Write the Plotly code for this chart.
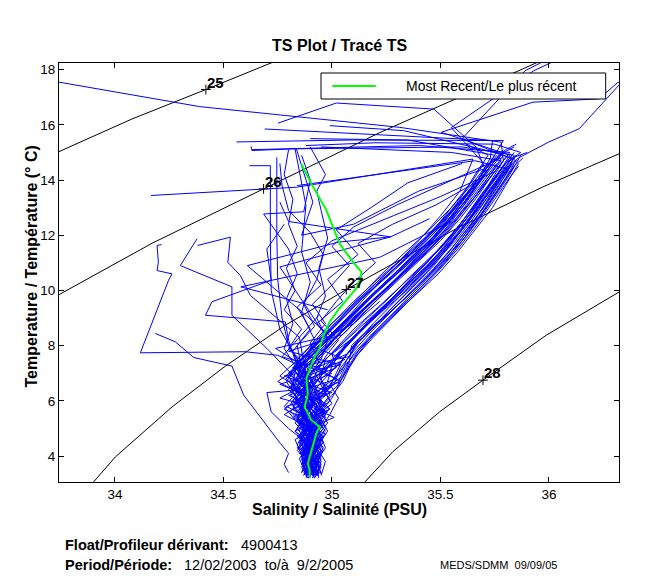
import plotly.graph_objects as go

FONT = "Liberation Sans, Arial, Helvetica, sans-serif"
BLUE = "#0000ff"
GREEN = "#00ff00"

# ---- axes ----
sal_range = [33.742, 36.323]
temp_range = [3.06, 18.24]
sal_ticks = [34, 34.5, 35, 35.5, 36]
temp_ticks = [4, 6, 8, 10, 12, 14, 16, 18]

# ---- sigma-t isopycnals ----
sig25_s = [33.60, 33.742, 34.078, 34.419, 34.723, 34.80]
sig25_t = [14.53, 15.03, 16.21, 17.28, 18.24, 18.50]
sig26_s = [33.60, 33.742, 34.171, 34.685, 35.031, 35.221, 35.573, 35.94, 36.0]
sig26_t = [9.23, 9.85, 11.71, 13.68, 15.01, 15.72, 16.95, 18.24, 18.45]
sig27_s = [33.872, 33.902, 34.002, 34.263, 34.509, 34.785, 35.066, 35.573, 35.972, 36.326, 36.40]
sig27_t = [2.80, 3.07, 3.97, 5.78, 7.26, 8.74, 10.03, 12.24, 13.75, 14.96, 15.20]
sig28_s = [35.133, 35.174, 35.281, 35.496, 35.696, 35.988, 36.326, 36.40]
sig28_t = [2.90, 3.25, 4.16, 5.60, 6.75, 8.38, 9.95, 10.30]

label_s = [34.419, 34.685, 35.066, 35.696]
label_t = [17.28, 13.68, 10.03, 6.75]
label_txt = ["25", "26", "27", "28"]

# ---- float profiles (salinity, temperature), deep -> surface ----
band_profiles = [
    [(34.90, 3.25), (34.88, 3.7), (34.92, 4.2), (34.86, 4.8), (34.91, 5.3), (34.85, 5.9), (34.90, 6.5), (34.86, 7.1),
     (34.95, 7.7), (35.03, 8.4), (35.12, 9.1), (35.22, 9.8), (35.33, 10.6), (35.44, 11.4), (35.54, 12.2), (35.62, 13.0),
     (35.70, 13.8), (35.78, 14.6), (35.82, 15.0), (35.40, 15.25), (34.63, 15.1), (34.627, 15.22)],
    [(34.93, 3.3), (34.95, 3.8), (34.92, 4.4), (34.97, 5.0), (34.93, 5.6), (34.99, 6.2), (34.95, 6.8), (35.03, 7.3),
     (35.09, 7.9), (35.18, 8.6), (35.28, 9.4), (35.37, 10.1), (35.47, 10.9), (35.56, 11.8), (35.64, 12.7), (35.72, 13.6),
     (35.80, 14.4), (35.86, 14.8), (36.0, 15.38), (36.14, 15.86), (36.33, 17.5)],
    [(34.87, 3.4), (34.91, 3.9), (34.85, 4.5), (34.90, 5.1), (34.82, 5.8), (34.88, 6.4), (34.80, 7.0), (34.90, 7.6),
     (34.99, 8.3), (35.09, 9.1), (35.19, 9.9), (35.30, 10.7), (35.41, 11.6), (35.51, 12.4), (35.60, 13.3), (35.68, 14.1),
     (35.73, 14.8), (35.74, 15.43), (34.69, 15.85)],
    [(34.92, 3.3), (34.89, 3.8), (34.94, 4.3), (34.90, 4.9), (34.96, 5.5), (34.91, 6.1), (34.98, 6.7), (35.00, 7.3),
     (35.06, 7.9), (35.14, 8.6), (35.24, 9.4), (35.34, 10.2), (35.45, 11.1), (35.55, 12.0), (35.64, 12.9), (35.72, 13.8),
     (35.79, 14.7), (35.78, 15.37), (35.31, 15.91), (34.39, 16.66), (33.742, 17.54), (33.60, 17.74)],
    [(34.89, 3.2), (34.92, 3.6), (34.87, 4.1), (34.93, 4.7), (34.86, 5.3), (34.92, 5.9), (34.84, 6.5), (34.89, 7.1),
     (34.93, 7.8), (35.02, 8.5), (35.11, 9.2), (35.21, 10.0), (35.33, 10.8), (35.45, 11.7), (35.55, 12.6), (35.64, 13.5),
     (35.71, 14.3), (35.665, 15.19), (35.47, 16.57), (35.02, 16.79), (34.751, 16.06)],
    [(34.94, 3.35), (34.91, 3.9), (34.95, 4.5), (34.89, 5.1), (34.94, 5.7), (34.88, 6.3), (34.95, 6.9), (34.97, 7.5),
     (35.05, 8.1), (35.15, 8.9), (35.26, 9.7), (35.36, 10.5), (35.48, 11.4), (35.58, 12.3), (35.67, 13.2), (35.75, 14.0),
     (35.83, 14.8), (35.70, 15.1), (35.33, 15.79), (34.99, 15.97)],
    [(34.91, 3.3), (34.93, 3.7), (34.88, 4.2), (34.92, 4.6), (34.87, 5.2), (34.93, 5.8), (34.89, 6.4), (34.96, 7.0),
     (35.02, 7.6), (35.10, 8.3), (35.20, 9.1), (35.30, 9.9), (35.41, 10.8), (35.52, 11.7), (35.61, 12.6), (35.69, 13.5),
     (35.77, 14.3), (35.82, 14.9), (35.504, 15.73), (35.926, 16.82), (36.23, 16.94), (36.318, 17.54), (36.40, 17.62)],
    [(34.88, 3.4), (34.86, 3.9), (34.90, 4.4), (34.84, 5.0), (34.88, 5.6), (34.83, 6.2), (34.87, 6.8), (34.84, 7.4),
     (34.92, 8.0), (35.00, 8.7), (35.09, 9.4), (35.18, 10.1), (35.29, 10.9), (35.40, 11.8), (35.50, 12.7), (35.59, 13.6),
     (35.65, 14.76), (34.836, 13.74), (34.166, 13.44)],
    [(34.95, 3.3), (34.97, 3.8), (34.93, 4.3), (34.98, 4.9), (34.94, 5.5), (35.00, 6.1), (35.04, 6.7), (35.08, 7.3),
     (35.13, 7.9), (35.21, 8.6), (35.31, 9.4), (35.41, 10.2), (35.51, 11.0), (35.60, 11.9), (35.68, 12.8), (35.75, 13.7),
     (35.81, 14.4), (35.66, 14.70), (34.84, 13.80)],
    [(34.90, 3.3), (34.87, 3.8), (34.91, 4.3), (34.85, 4.9), (34.89, 5.5), (34.83, 6.0), (34.88, 6.6), (34.85, 7.2),
     (34.93, 7.8), (35.01, 8.5), (35.11, 9.3), (35.22, 10.1), (35.34, 11.0), (35.46, 11.9), (35.56, 12.8), (35.64, 13.7),
     (35.72, 14.5), (35.79, 15.43), (35.10, 15.45), (34.56, 15.38)],
    [(34.92, 3.25), (34.94, 3.6), (34.90, 4.0), (34.95, 4.6), (34.91, 5.2), (34.96, 5.8), (34.92, 6.4), (34.99, 7.0),
     (35.06, 7.6), (35.13, 8.2), (35.23, 9.0), (35.33, 9.8), (35.43, 10.6), (35.53, 11.5), (35.62, 12.4), (35.70, 13.3),
     (35.78, 14.1), (35.85, 14.7), (35.60, 15.5), (35.89, 17.96), (36.0, 18.4)],
    [(34.86, 3.4), (34.89, 3.9), (34.84, 4.4), (34.88, 5.0), (34.81, 5.6), (34.86, 6.2), (34.79, 6.8), (34.85, 7.4),
     (34.94, 8.1), (35.04, 8.9), (35.14, 9.7), (35.25, 10.5), (35.37, 11.4), (35.48, 12.3), (35.57, 13.2), (35.65, 14.0),
     (35.70, 14.6), (35.55, 15.9), (35.93, 17.96), (36.05, 18.4)],
    [(34.93, 3.3), (34.90, 3.7), (34.95, 4.2), (34.92, 4.8), (34.97, 5.4), (34.93, 6.0), (35.01, 6.6), (35.04, 7.2),
     (35.10, 7.8), (35.18, 8.5), (35.27, 9.2), (35.37, 10.0), (35.47, 10.8), (35.57, 11.7), (35.66, 12.6), (35.74, 13.5),
     (35.81, 14.3), (35.84, 14.9), (35.60, 15.2), (34.83, 15.13), (34.63, 15.07)],
    [(34.90, 3.3), (34.92, 3.8), (34.88, 4.4), (34.93, 5.0), (34.87, 5.5), (34.92, 6.1), (34.86, 6.7), (34.91, 7.3),
     (34.97, 7.9), (35.06, 8.6), (35.16, 9.4), (35.27, 10.2), (35.39, 11.1), (35.50, 12.0), (35.59, 12.9), (35.67, 13.8),
     (35.74, 14.6), (35.80, 15.1), (35.85, 15.3)],
    [(34.91, 3.4), (34.88, 3.9), (34.93, 4.5), (34.88, 5.1), (34.94, 5.7), (34.89, 6.3), (34.93, 6.9), (35.00, 7.5),
     (35.07, 8.1), (35.16, 8.8), (35.25, 9.5), (35.35, 10.3), (35.46, 11.2), (35.57, 12.1), (35.66, 13.0), (35.73, 13.9),
     (35.80, 14.6), (35.87, 15.0), (35.75, 15.3), (35.20, 15.35), (34.88, 15.25)],
    [(34.89, 3.3), (34.91, 3.7), (34.86, 4.2), (34.90, 4.8), (34.84, 5.4), (34.89, 6.0), (34.82, 6.5), (34.87, 7.1),
     (34.90, 7.7), (34.98, 8.3), (35.08, 9.0), (35.17, 9.7), (35.28, 10.5), (35.40, 11.4), (35.51, 12.3), (35.61, 13.2),
     (35.68, 14.0), (35.76, 14.8), (35.79, 15.1)],
    [(34.94, 3.3), (34.92, 3.7), (34.96, 4.3), (34.91, 4.9), (34.97, 5.5), (34.94, 6.0), (35.02, 6.5), (35.06, 7.0),
     (35.11, 7.6), (35.19, 8.3), (35.29, 9.1), (35.39, 9.9), (35.49, 10.7), (35.58, 11.5), (35.67, 12.4), (35.75, 13.3),
     (35.82, 14.1), (35.86, 14.5)],
    [(34.88, 3.3), (34.90, 3.8), (34.85, 4.3), (34.89, 4.8), (34.83, 5.3), (34.78, 5.8), (34.84, 6.3), (34.80, 6.9),
     (34.86, 7.5), (34.95, 8.2), (35.05, 9.0), (35.15, 9.8), (35.27, 10.6), (35.39, 11.5), (35.50, 12.4), (35.59, 13.3),
     (35.66, 14.2), (35.72, 14.9), (35.62, 15.3)],
    [(34.92, 3.2), (34.90, 3.5), (34.93, 4.0), (34.89, 4.6), (34.95, 5.2), (34.90, 5.8), (34.96, 6.4), (34.93, 6.9),
     (35.00, 7.4), (35.08, 8.1), (35.18, 8.9), (35.29, 9.7), (35.40, 10.5), (35.50, 11.3), (35.60, 12.2), (35.68, 13.1),
     (35.76, 14.0), (35.83, 14.8), (35.90, 15.0)],
    [(34.90, 3.4), (34.88, 3.8), (34.92, 4.3), (34.87, 4.9), (34.91, 5.5), (34.86, 6.1), (34.91, 6.7), (34.88, 7.3),
     (34.96, 7.9), (35.05, 8.6), (35.14, 9.3), (35.24, 10.0), (35.35, 10.8), (35.46, 11.6), (35.56, 12.5), (35.65, 13.4),
     (35.73, 14.2), (35.78, 14.7), (35.55, 15.0), (34.95, 15.2)],
    [(34.93, 3.3), (34.95, 3.7), (34.91, 4.2), (34.94, 4.7), (34.90, 5.3), (34.95, 5.9), (34.91, 6.5), (34.97, 7.1),
     (35.03, 7.7), (35.12, 8.4), (35.21, 9.1), (35.31, 9.9), (35.42, 10.7), (35.53, 11.6), (35.63, 12.5), (35.71, 13.4),
     (35.79, 14.3), (35.85, 14.9)],
    [(34.87, 3.3), (34.90, 3.8), (34.86, 4.4), (34.91, 5.0), (34.85, 5.6), (34.90, 6.2), (34.84, 6.8), (34.90, 7.4),
     (34.98, 8.0), (35.07, 8.7), (35.17, 9.5), (35.28, 10.3), (35.39, 11.2), (35.49, 12.1), (35.58, 13.0), (35.66, 13.9),
     (35.74, 14.7), (35.80, 15.0)],
    [(34.95, 3.35), (34.93, 3.8), (34.97, 4.3), (34.94, 4.9), (34.99, 5.5), (35.03, 6.1), (34.99, 6.6), (35.05, 7.2),
     (35.12, 7.8), (35.22, 8.6), (35.32, 9.4), (35.42, 10.2), (35.52, 11.0), (35.61, 11.9), (35.69, 12.8), (35.77, 13.7),
     (35.84, 14.5), (35.88, 14.8)],
    [(34.89, 3.3), (34.86, 3.7), (34.90, 4.2), (34.85, 4.7), (34.89, 5.3), (34.84, 5.9), (34.88, 6.5), (34.83, 7.1),
     (34.91, 7.7), (35.00, 8.4), (35.10, 9.2), (35.20, 9.9), (35.31, 10.7), (35.43, 11.6), (35.53, 12.5), (35.62, 13.4),
     (35.69, 14.2), (35.75, 14.9), (35.35, 15.45), (34.90, 15.5)],
    [(34.91, 3.3), (34.93, 3.8), (34.89, 4.3), (34.94, 4.9), (34.90, 5.4), (34.95, 6.0), (34.92, 6.6), (34.98, 7.2),
     (35.04, 7.8), (35.13, 8.5), (35.23, 9.3), (35.33, 10.1), (35.44, 10.9), (35.54, 11.8), (35.63, 12.7), (35.71, 13.6),
     (35.78, 14.4), (35.84, 15.0)],
    [(34.92, 3.4), (34.95, 3.9), (34.90, 4.5), (34.93, 5.1), (34.88, 5.7), (34.93, 6.3), (34.87, 6.9), (34.93, 7.5),
     (35.01, 8.2), (35.10, 8.9), (35.20, 9.7), (35.31, 10.5), (35.42, 11.4), (35.52, 12.3), (35.61, 13.2), (35.69, 14.1),
     (35.77, 14.9), (35.84, 15.2)],
]

# more band profiles, salinity read at shared temperature levels
temp_grid_a = [3.3, 3.7, 4.2, 4.7, 5.2, 5.7, 6.2, 6.7, 7.2, 7.7, 8.3, 9.0, 9.8, 10.6, 11.4, 12.2, 13.0, 13.8, 14.6]
sal_grid_a = [
    [34.91, 34.86, 34.93, 34.84, 34.95, 34.82, 34.97, 34.86, 35.02, 35.00, 35.10, 35.18, 35.30, 35.40, 35.50, 35.58, 35.66, 35.73, 35.80],
    [34.88, 34.94, 34.87, 34.96, 34.86, 34.99, 34.88, 35.04, 34.93, 35.07, 35.13, 35.24, 35.35, 35.45, 35.54, 35.62, 35.70, 35.77, 35.83],
    [34.92, 34.89, 34.95, 34.88, 34.92, 34.78, 34.87, 34.75, 34.84, 34.90, 34.98, 35.07, 35.16, 35.26, 35.37, 35.47, 35.57, 35.66, 35.74],
    [34.90, 34.93, 34.89, 34.96, 34.90, 34.99, 34.93, 35.03, 35.06, 35.10, 35.17, 35.26, 35.37, 35.47, 35.56, 35.64, 35.71, 35.78, 35.84],
    [34.89, 34.87, 34.91, 34.86, 34.90, 34.85, 34.83, 34.79, 34.84, 34.93, 35.00, 35.09, 35.19, 35.30, 35.41, 35.51, 35.60, 35.68, 35.76],
    [34.93, 34.91, 34.96, 34.93, 34.98, 34.94, 35.00, 35.05, 35.08, 35.12, 35.18, 35.27, 35.38, 35.49, 35.58, 35.66, 35.74, 35.80, 35.86],
    [34.87, 34.90, 34.84, 34.89, 34.83, 34.88, 34.81, 34.86, 34.82, 34.88, 34.95, 35.04, 35.13, 35.23, 35.34, 35.45, 35.55, 35.64, 35.72],
]
temp_grid_b = [3.4, 3.9, 4.4, 4.9, 5.4, 5.9, 6.4, 6.9, 7.4, 8.0, 8.6, 9.3, 10.1, 10.9, 11.8, 12.6, 13.4, 14.2, 14.9]
sal_grid_b = [
    [34.90, 34.92, 34.88, 34.93, 34.87, 34.92, 34.86, 34.93, 34.90, 34.98, 35.06, 35.16, 35.27, 35.38, 35.50, 35.59, 35.67, 35.74, 35.81],
    [34.93, 34.89, 34.94, 34.90, 34.96, 34.91, 34.97, 34.94, 35.01, 35.06, 35.14, 35.24, 35.36, 35.46, 35.57, 35.65, 35.72, 35.79, 35.85],
    [34.88, 34.85, 34.89, 34.83, 34.88, 34.81, 34.86, 34.76, 34.83, 34.90, 34.97, 35.07, 35.18, 35.29, 35.42, 35.52, 35.61, 35.69, 35.76],
    [34.91, 34.94, 34.90, 34.97, 34.92, 35.00, 34.96, 35.05, 35.08, 35.09, 35.17, 35.28, 35.39, 35.49, 35.60, 35.68, 35.75, 35.82, 35.87],
    [34.89, 34.91, 34.87, 34.90, 34.85, 34.91, 34.87, 34.89, 34.85, 34.94, 35.02, 35.12, 35.22, 35.33, 35.45, 35.55, 35.63, 35.71, 35.78],
    [34.92, 34.90, 34.93, 34.89, 34.94, 34.88, 34.93, 34.89, 34.96, 35.03, 35.10, 35.20, 35.31, 35.42, 35.53, 35.62, 35.69, 35.76, 35.83],
    [34.86, 34.89, 34.85, 34.88, 34.84, 34.87, 34.84, 34.80, 34.88, 34.95, 35.04, 35.14, 35.25, 35.36, 35.47, 35.57, 35.66, 35.73, 35.79],
]
temp_grid_c = [3.2, 3.6, 4.0, 4.5, 5.0, 5.5, 6.0, 6.5, 7.0, 7.5, 8.1, 8.8, 9.6, 10.4, 11.2, 12.0, 12.9, 13.7, 14.5]
sal_grid_c = [
    [34.91, 34.93, 34.89, 34.92, 34.88, 34.93, 34.87, 34.92, 34.88, 34.94, 35.01, 35.10, 35.20, 35.30, 35.41, 35.51, 35.61, 35.69, 35.77],
    [34.94, 34.92, 34.95, 34.91, 34.96, 34.92, 34.99, 34.96, 35.04, 35.07, 35.12, 35.21, 35.32, 35.43, 35.53, 35.61, 35.70, 35.77, 35.84],
    [34.88, 34.90, 34.86, 34.89, 34.84, 34.88, 34.82, 34.87, 34.80, 34.86, 34.93, 35.02, 35.12, 35.23, 35.35, 35.46, 35.56, 35.64, 35.72],
    [34.90, 34.88, 34.92, 34.87, 34.92, 34.86, 34.91, 34.85, 34.90, 34.97, 35.05, 35.15, 35.26, 35.37, 35.48, 35.57, 35.66, 35.74, 35.81],
    [34.92, 34.95, 34.91, 34.96, 34.92, 34.97, 34.93, 34.99, 35.02, 35.05, 35.11, 35.19, 35.29, 35.39, 35.49, 35.58, 35.67, 35.75, 35.82],
    [34.89, 34.86, 34.90, 34.85, 34.89, 34.83, 34.88, 34.81, 34.87, 34.84, 34.92, 35.00, 35.10, 35.21, 35.33, 35.44, 35.55, 35.64, 35.72],
]

# deep parts with wide zigzags
deep_profiles = [
    [(34.90, 3.3), (34.83, 4.6), (34.96, 5.1), (34.79, 5.8), (35.00, 6.3), (34.78, 6.9), (35.04, 7.3), (34.80, 7.8),
     (35.05, 8.4), (35.15, 9.2)],
    [(34.92, 3.4), (34.86, 4.0), (34.97, 4.8), (34.82, 5.4), (34.95, 6.0), (34.76, 6.6), (34.92, 7.0), (35.06, 7.5),
     (34.90, 8.0), (35.10, 8.8), (35.22, 9.6)],
    [(34.88, 3.3), (34.95, 4.2), (34.83, 4.9), (34.98, 5.6), (34.80, 6.2), (35.02, 6.8), (34.84, 7.4), (34.74, 7.9),
     (34.96, 8.3), (35.05, 9.0)],
    [(34.93, 3.5), (34.84, 4.3), (34.93, 4.9), (34.78, 5.5), (34.90, 6.1), (34.99, 6.5), (34.82, 7.2), (35.08, 7.6),
     (35.12, 8.2)],
    [(34.87, 3.6), (34.96, 4.5), (34.85, 5.2), (34.97, 5.9), (34.81, 6.5), (34.98, 7.1), (34.77, 7.6), (34.86, 8.4),
     (34.94, 9.1)],
    [(34.91, 3.3), (34.94, 3.8), (34.85, 4.1), (34.92, 4.4), (34.86, 4.9), (35.01, 5.4), (34.90, 5.8), (34.76, 6.1),
     (34.88, 6.6), (35.00, 7.0)],
    [(34.94, 3.3), (34.90, 3.5), (34.95, 3.4), (34.92, 3.9), (34.88, 4.5), (34.80, 5.0), (34.72, 5.6), (34.70, 6.3),
     (34.84, 6.4)],
]

fresh_profiles = [
    [(34.88, 3.4), (34.86, 4.0), (34.89, 4.6), (34.84, 5.3), (34.88, 6.0), (34.83, 6.7), (34.86, 7.3), (34.80, 8.0),
     (34.77, 9.0), (34.75, 10.4), (34.746, 12.0), (34.746, 14.82)],
    [(34.90, 3.3), (34.87, 3.9), (34.91, 4.5), (34.85, 5.2), (34.89, 5.9), (34.82, 6.6), (34.84, 7.5), (34.76, 8.6),
     (34.72, 10.0), (34.716, 11.87), (34.716, 14.52), (34.62, 14.52)],
    [(34.89, 3.3), (34.91, 3.9), (34.86, 4.6), (34.90, 5.3), (34.85, 6.0), (34.89, 6.7), (34.87, 7.4), (34.92, 8.2),
     (34.86, 9.2), (34.90, 10.3), (34.86, 11.4), (34.88, 13.08), (34.83, 15.13)],
    [(34.92, 3.4), (34.89, 4.0), (34.93, 4.7), (34.88, 5.4), (34.92, 6.1), (34.87, 6.8), (34.93, 7.5), (35.00, 8.1),
     (34.93, 8.8), (35.05, 9.6), (34.98, 10.4), (35.12, 11.3), (35.02, 12.2), (35.18, 13.0), (35.35, 13.9), (35.60, 14.6)],
    [(34.90, 3.5), (34.87, 4.2), (34.91, 4.9), (34.86, 5.7), (34.90, 6.4), (34.85, 7.1), (34.82, 7.8), (34.90, 8.6),
     (34.84, 9.4), (34.95, 10.2), (34.88, 11.0), (35.00, 11.8), (35.25, 12.6), (35.50, 13.4), (35.75, 14.3)],
    [(34.91, 3.5), (34.88, 4.1), (34.92, 4.7), (34.87, 5.4), (34.93, 6.1), (34.88, 6.8), (34.95, 7.5), (34.98, 8.2),
     (34.93, 9.0), (34.97, 9.8), (34.94, 10.8), (34.98, 11.9), (34.95, 12.9), (34.93, 13.6), (34.97, 14.2), (34.90, 15.2)],
    [(34.93, 3.6), (34.90, 4.3), (34.94, 5.0), (34.89, 5.8), (34.80, 6.4), (34.85, 7.0), (34.78, 7.9), (34.82, 8.8),
     (34.79, 9.7), (34.84, 10.6), (34.80, 11.5), (34.685, 12.77), (34.87, 12.85), (34.90, 14.0), (34.86, 14.9)],
    [(34.90, 3.4), (34.86, 4.5), (34.91, 5.5), (34.84, 6.5), (34.88, 7.3), (34.80, 7.9), (34.86, 8.6), (34.78, 9.3),
     (34.83, 10.0), (34.79, 10.8), (34.84, 11.6), (34.80, 12.4), (34.82, 13.3), (34.78, 14.2), (34.80, 15.1)],
    [(34.92, 3.5), (34.89, 4.6), (34.93, 5.6), (34.88, 6.6), (34.94, 7.4), (34.90, 8.1), (34.97, 8.8), (34.91, 9.5),
     (35.00, 10.2), (35.08, 10.9), (35.00, 11.6), (35.10, 12.3), (35.30, 13.1), (35.55, 14.0), (35.78, 14.8)],
    [(34.89, 3.3), (34.92, 4.4), (34.87, 5.4), (34.91, 6.4), (34.86, 7.2), (34.84, 8.0), (34.92, 8.7), (34.87, 9.5),
     (34.93, 10.4), (34.96, 11.3), (34.90, 12.1), (34.80, 12.9), (34.77, 13.8), (34.76, 14.6)],
    [(34.91, 3.4), (34.88, 4.3), (34.92, 5.2), (34.87, 6.1), (34.92, 6.9), (34.97, 7.6), (35.03, 8.2), (34.95, 8.9),
     (35.02, 9.6), (35.10, 10.3), (35.20, 11.0), (35.12, 11.7), (35.28, 12.4), (35.48, 13.1), (35.66, 13.9)],
]

odd_profiles = [
    [(34.80, 3.4), (34.78, 3.7), (34.80, 4.1), (34.762, 4.46), (34.593, 6.21), (34.539, 7.26), (34.363, 7.57),
     (34.278, 8.14), (34.186, 8.44)],
    [(34.90, 3.5), (34.87, 4.2), (34.91, 5.0), (34.86, 5.8), (34.89, 6.5), (34.87, 7.2), (34.75, 7.65), (34.60, 7.78),
     (34.117, 7.74), (34.247, 10.37), (34.263, 10.6), (34.194, 10.72), (34.20, 11.02), (34.194, 11.63), (34.215, 11.66)],
    [(34.88, 6.9), (34.85, 8.3), (34.624, 9.82), (34.578, 10.54), (34.52, 11.02), (34.532, 11.93), (34.381, 11.63)],
    [(34.86, 6.6), (34.70, 7.9), (34.539, 9.1), (34.539, 10.13), (34.301, 10.9), (34.378, 11.87)],
    [(34.87, 6.5), (34.80, 8.2), (34.785, 8.86), (34.417, 9.1), (34.447, 9.59), (34.72, 10.37), (34.70, 11.5),
     (34.78, 12.4)],
    [(35.00, 8.3), (34.61, 10.9), (35.03, 11.75), (35.27, 11.94), (34.80, 12.5), (34.76, 13.2)],
    [(34.95, 8.6), (34.76, 10.85), (35.27, 11.94), (35.45, 12.6)],
    [(34.836, 15.13), (34.912, 13.2), (34.86, 12.0), (35.10, 12.4), (35.40, 13.6), (35.70, 14.4)],
    [(34.98, 9.3), (34.58, 10.13), (35.22, 11.2), (35.55, 12.5)],
]

# most recent profile
recent_sal = [34.897, 34.897, 34.889, 34.912, 34.928, 34.943, 34.905, 34.874, 34.889, 34.882, 34.897, 34.920,
              34.943, 34.959, 34.989, 35.028, 35.066, 35.112, 35.135, 35.135, 35.097, 35.035, 34.974, 34.905, 34.859]
recent_temp = [3.25, 3.49, 3.73, 4.34, 4.82, 5.06, 5.30, 5.78, 6.27, 6.81, 7.11, 7.60,
               7.90, 8.32, 8.86, 9.29, 9.65, 10.07, 10.49, 10.67, 11.03, 11.70, 12.91, 13.87, 14.57]


def flatten(groups):
    xs, ys = [], []
    for prof in groups:
        for s, t in prof:
            xs.append(s)
            ys.append(t)
        xs.append(None)
        ys.append(None)
    return xs, ys


def on_grid(sal_lists, temps):
    return [list(zip(sals, temps)) for sals in sal_lists]


# page has an 8 px body margin; plot area in window pixels: x 59..619, y 63..482
def px(x):
    return (x - 59) / 560.0


def py(y):
    return (482 - y) / 419.0


fig = go.Figure()

for cs, ct in [(sig25_s, sig25_t), (sig26_s, sig26_t), (sig27_s, sig27_t), (sig28_s, sig28_t)]:
    fig.add_trace(go.Scatter(x=cs, y=ct, mode='lines', line=dict(color='black', width=1),
                             hoverinfo='skip', showlegend=False))

all_profiles = (band_profiles + on_grid(sal_grid_a, temp_grid_a) + on_grid(sal_grid_b, temp_grid_b)
                + on_grid(sal_grid_c, temp_grid_c) + deep_profiles + fresh_profiles + odd_profiles)
bx, by = flatten(all_profiles)
fig.add_trace(go.Scatter(x=bx, y=by, mode='lines', line=dict(color=BLUE, width=1),
                         connectgaps=False, showlegend=False, name='Profiles'))

fig.add_trace(go.Scatter(x=label_s, y=label_t, mode='markers',
                         marker=dict(symbol='cross-thin', size=7, line=dict(color='black', width=1)),
                         hoverinfo='skip', showlegend=False))

fig.add_trace(go.Scatter(x=recent_sal, y=recent_temp, mode='lines', line=dict(color=GREEN, width=2),
                         name='Most Recent/Le plus récent', showlegend=False))

for s, t, txt in zip(label_s, label_t, label_txt):
    fig.add_annotation(x=s, y=t, text='<b>%s</b>' % txt, showarrow=False, xanchor='left', yanchor='bottom',
                       yshift=-3, xshift=-1, font=dict(family=FONT, size=15, color='black'))

# legend box
fig.add_shape(type='rect', xref='paper', yref='paper', x0=px(321), x1=px(605.7), y0=py(99), y1=py(73),
              line=dict(color='black', width=1), fillcolor='white', layer='above')
fig.add_shape(type='line', xref='paper', yref='paper', x0=px(332.3), x1=px(375.7), y0=py(86), y1=py(86),
              line=dict(color=GREEN, width=2), layer='above')
fig.add_annotation(xref='paper', yref='paper', x=px(404), y=py(86), text='Most Recent/Le plus récent',
                   showarrow=False, xanchor='left', yanchor='middle', font=dict(family=FONT, size=14, color='black'))

# titles
fig.add_annotation(xref='paper', yref='paper', x=0.5, y=py(45), text='<b>TS Plot / Tracé TS</b>',
                   showarrow=False, xanchor='center', yanchor='middle', font=dict(family=FONT, size=16, color='black'))
fig.add_annotation(xref='paper', yref='paper', x=0.5, y=py(509), text='<b>Salinity / Salinité (PSU)</b>',
                   showarrow=False, xanchor='center', yanchor='middle', font=dict(family=FONT, size=16, color='black'))
fig.add_annotation(xref='paper', yref='paper', x=px(31), y=py(266.5), text='<b>Temperature / Température (° C)</b>',
                   showarrow=False, textangle=-90, xanchor='center', yanchor='middle',
                   font=dict(family=FONT, size=16, color='black'))

# footer
foot = [
    (63, 545, '<b>Float/Profileur dérivant:</b>', 14.5),
    (239, 545, '4900413', 14.5),
    (63, 565, '<b>Period/Période:</b>', 14.5),
    (182, 565, '12/02/2003&nbsp; to/à&nbsp; 9/2/2005', 14.5),
    (438, 565, 'MEDS/SDMM&nbsp; 09/09/05', 11),
]
for x, y, txt, size in foot:
    fig.add_annotation(xref='paper', yref='paper', x=px(x), y=py(y), text=txt, showarrow=False,
                       xanchor='left', yanchor='middle', font=dict(family=FONT, size=size, color='black'))

axis_common = dict(showline=True, linecolor='black', linewidth=1, mirror='ticks', ticks='inside', ticklen=5,
                   tickcolor='black', showgrid=False, zeroline=False,
                   tickfont=dict(family=FONT, size=13.5, color='black'))
fig.update_xaxes(range=sal_range, tickvals=sal_ticks, ticktext=[str(v) if v % 1 else str(int(v)) for v in sal_ticks],
                 **axis_common)
fig.update_yaxes(range=temp_range, tickvals=temp_ticks, **axis_common)

# figure sits 8 px in from the page corner, so it is 8 px smaller than the window
fig.update_layout(width=642, height=572, margin=dict(l=51, r=31, t=55, b=98),
                  plot_bgcolor='white', paper_bgcolor='white', showlegend=False,
                  font=dict(family=FONT, color='black'))

fig.write_html("out.html")
